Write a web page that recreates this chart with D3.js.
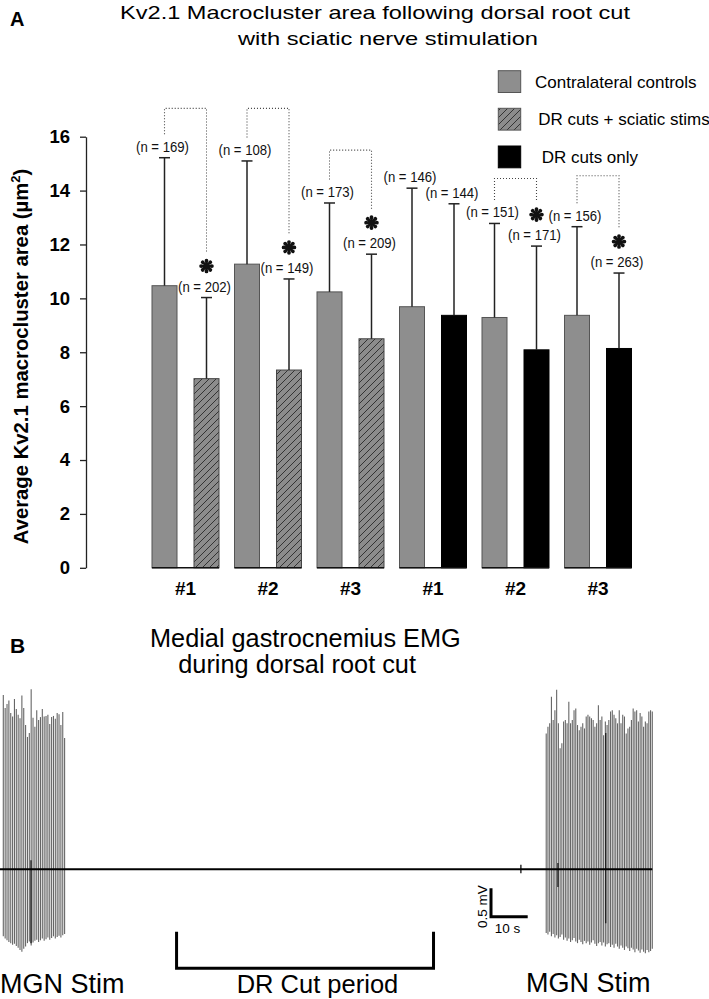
<!DOCTYPE html>
<html>
<head>
<meta charset="utf-8">
<script src="https://cdn.jsdelivr.net/npm/d3@7"></script>
<style>
  html, body { margin: 0; padding: 0; background: #fff; }
  svg { display: block; font-family: "Liberation Sans", Arial, sans-serif; }
</style>
</head>
<body>
<div id="chart"></div>
<script>
// ---------------- Panel A data ----------------
const groupLabels   = ["#1", "#2", "#3", "#1", "#2", "#3"];
const controlMeans  = [10.47, 11.27, 10.24, 9.69, 9.29, 9.37];
const controlSD     = [4.75, 3.83, 3.30, 4.40, 3.49, 3.29];
const controlN      = [169, 108, 173, 146, 151, 156];
const treatedMeans  = [7.02, 7.34, 8.50, 9.37, 8.09, 8.14];
const treatedSD     = [3.01, 3.38, 3.14, 4.14, 3.85, 2.80];
const treatedN      = [202, 149, 209, 144, 171, 263];
const treatedType   = ["stim", "stim", "stim", "only", "only", "only"];
const significant   = [true, true, true, false, true, true];
const bracketTop    = [17.05, 17.05, 15.5, null, 14.45, 14.55];
const yTicks        = [0, 2, 4, 6, 8, 10, 12, 14, 16];
const legendLabels  = ["Contralateral controls", "DR cuts + sciatic stims", "DR cuts only"];

// ---------------- Panel B data (EMG, mV / s) ----------------
const leftBurstTime  = [0.9, 17.6];
const rightBurstTime = [148.8, 177.7];
const traceEnd       = 177.7;
const leftTops = [3.07,2.84,2.91,2.97,2.75,2.69,3.00,2.82,2.72,2.66,
                  3.06,2.84,2.54,2.33,2.40,3.17,2.67,2.51,2.80,2.63,
                  2.68,2.82,2.69,2.70,2.72,2.56,2.68,2.70,2.65,2.75,
                  2.73,2.54,2.77,2.31];
const leftBottoms = [-1.18,-1.22,-1.25,-1.28,-1.30,-1.33,-1.31,-1.35,-1.38,-1.42,
                     -1.45,-1.40,-1.36,-1.30,-1.27,-1.34,-1.29,-1.26,-1.24,-1.28,
                     -1.25,-1.22,-1.26,-1.23,-1.20,-1.24,-1.21,-1.18,-1.22,-1.19,
                     -1.17,-1.20,-1.16,-1.14];
const rightTops = [2.39,2.51,2.57,3.04,2.63,2.80,3.16,2.57,2.13,2.22,
                   2.60,2.63,2.57,2.95,2.57,2.63,2.80,2.83,2.54,2.45,
                   2.51,2.57,2.48,2.69,2.72,2.69,2.66,2.63,2.51,2.57,
                   2.89,2.63,2.69,2.36,2.60,2.54,2.63,2.78,2.80,2.72,
                   2.66,2.57,2.80,2.57,2.72,2.69,2.39,2.48,2.51,2.63,
                   2.83,2.78,2.80,2.60,2.75,2.69,2.51,2.60,2.57,2.78,
                   2.80,2.78];
const rightBottoms = [-1.12,-1.15,-1.10,-1.18,-1.14,-1.20,-1.16,-1.22,-1.19,-1.15,
                      -1.24,-1.20,-1.26,-1.22,-1.28,-1.25,-1.21,-1.27,-1.30,-1.24,
                      -1.28,-1.32,-1.26,-1.30,-1.27,-1.33,-1.29,-1.25,-1.31,-1.35,
                      -1.30,-1.28,-1.34,-1.29,-1.36,-1.32,-1.30,-1.37,-1.33,-1.38,
                      -1.31,-1.36,-1.40,-1.34,-1.38,-1.42,-1.36,-1.39,-1.44,-1.38,
                      -1.41,-1.46,-1.40,-1.43,-1.47,-1.41,-1.45,-1.48,-1.42,-1.46,
                      -1.44,-1.40];
// artifacts: [time s, top mV, bottom mV]
const artifacts = [[8.45, 0.16, -1.30], [165.0, 2.40, -0.95], [152.0, 0.11, -0.31], [141.9, 0.08, -0.07]];
const drCutPeriod = [48.1, 118.1];
const scaleBarMV = 0.5;
const scaleBarS = 10;

// ---------------- Setup ----------------
const W = 709, H = 999;
const svg = d3.select("#chart").append("svg").attr("width", W).attr("height", H);

const defs = svg.append("defs");
const pat = defs.append("pattern").attr("id", "hatch").attr("patternUnits", "userSpaceOnUse")
  .attr("width", 7).attr("height", 7);
pat.append("rect").attr("width", 7).attr("height", 7).attr("fill", "#8c8c8c");
pat.append("path").attr("d", "M-1,8 L8,-1 M-1,1 L1,-1 M6,8 L8,6")
  .attr("stroke", "#2a2a2a").attr("stroke-width", 0.9);

const GRAY = "#8e8e8e";
const fillFor = t => t === "stim" ? "url(#hatch)" : "#000";

// ---------------- Panel A ----------------
const y = d3.scaleLinear().domain([0, 16]).range([567.8, 136.7]);
const idx = d3.range(groupLabels.length);
const xg = d3.scaleBand().domain(idx).range([144.25, 639.25]).padding(0);
const xi = d3.scaleBand().domain(["c", "t"]).range([-33.5, 33.5]).paddingInner(17 / 42).paddingOuter(0);
const gc = i => xg(i) + xg.bandwidth() / 2;
const bw = xi.bandwidth();
const bc = (i, k) => gc(i) + xi(k) + bw / 2;

// labels
svg.append("text").attr("x", 10).attr("y", 26).attr("font-weight", "bold").attr("font-size", 20).text("A");
svg.append("text").attr("x", 120).attr("y", 18.5).attr("font-size", 18.5)
  .attr("textLength", 510).attr("lengthAdjust", "spacingAndGlyphs")
  .text("Kv2.1 Macrocluster area following dorsal root cut");
svg.append("text").attr("x", 238).attr("y", 44.5).attr("font-size", 18.5)
  .attr("textLength", 300).attr("lengthAdjust", "spacingAndGlyphs")
  .text("with sciatic nerve stimulation");

// y axis
const yAxis = svg.append("g").attr("transform", "translate(86,0)")
  .call(d3.axisLeft(y).tickValues(yTicks).tickSize(6).tickSizeOuter(0).tickPadding(10).tickFormat(d3.format("d")));
yAxis.select(".domain").attr("stroke", "#222").attr("stroke-width", 1.3);
yAxis.selectAll(".tick line").attr("stroke", "#222").attr("stroke-width", 1.3);
yAxis.selectAll(".tick text").attr("font-size", 18.5).attr("font-weight", "bold")
  .attr("font-family", "'Liberation Sans', Arial, sans-serif").attr("fill", "#000");

const yl = svg.append("text").attr("transform", "translate(28,356.5) rotate(-90)")
  .attr("text-anchor", "middle").attr("font-weight", "bold").attr("font-size", 20.3);
yl.append("tspan").text("Average Kv2.1 macrocluster area (\u00b5m");
yl.append("tspan").attr("font-size", 13).attr("dy", -8).text("2");
yl.append("tspan").attr("dy", 8).text(")");

// bars
const gBars = svg.append("g");
idx.forEach(i => {
  gBars.append("rect").attr("x", gc(i) + xi("c")).attr("width", bw)
    .attr("y", y(controlMeans[i])).attr("height", y(0) - y(controlMeans[i]))
    .attr("fill", GRAY).attr("stroke", "#555").attr("stroke-width", 1);
  gBars.append("rect").attr("x", gc(i) + xi("t")).attr("width", bw)
    .attr("y", y(treatedMeans[i])).attr("height", y(0) - y(treatedMeans[i]))
    .attr("fill", fillFor(treatedType[i])).attr("stroke", treatedType[i] === "stim" ? "#444" : "#000").attr("stroke-width", 1);
  gBars.append("line").attr("x1", gc(i) + xi("c")).attr("x2", gc(i) + xi("t") + bw)
    .attr("y1", y(0)).attr("y2", y(0)).attr("stroke", "#111").attr("stroke-width", 1.6);
  svg.append("text").attr("x", gc(i)).attr("y", 595).attr("text-anchor", "middle")
    .attr("font-weight", "bold").attr("font-size", 19).text(groupLabels[i]);
});

// error bars + n labels
const errs = [];
idx.forEach(i => {
  errs.push({ x: bc(i, "c"), m: controlMeans[i], s: controlSD[i], n: controlN[i], grp: i, kind: "c" });
  errs.push({ x: bc(i, "t"), m: treatedMeans[i], s: treatedSD[i], n: treatedN[i], grp: i, kind: "t" });
});
const gErr = svg.append("g").attr("stroke", "#222").attr("stroke-width", 1.5);
errs.forEach(d => {
  const top = y(d.m + d.s);
  gErr.append("line").attr("x1", d.x).attr("x2", d.x).attr("y1", y(d.m)).attr("y2", top);
  gErr.append("line").attr("x1", d.x - 5.5).attr("x2", d.x + 5.5).attr("y1", top).attr("y2", top);
  d.labelY = top - 11.5;
  svg.append("text").attr("x", d.x - 2).attr("y", d.labelY + 5.5).attr("text-anchor", "middle")
    .attr("font-size", 15.5).attr("textLength", 53).attr("lengthAdjust", "spacingAndGlyphs")
    .attr("fill", "#111").text(`(n = ${d.n})`);
});

// asterisk symbol (8 teardrop spokes)
function asteriskPath() {
  const p = d3.path();
  for (let k = 0; k < 8; k++) {
    const a = k * Math.PI / 4 - Math.PI / 2;
    const r = 5.4, w = 1.9;
    const cx = r * Math.cos(a), cy = r * Math.sin(a);
    const nx = -Math.sin(a), ny = Math.cos(a);
    p.moveTo(0.35 * nx, 0.35 * ny);
    p.lineTo(cx + w * nx, cy + w * ny);
    p.arc(cx, cy, w, a + Math.PI / 2, a - Math.PI / 2, true);
    p.lineTo(-0.35 * nx, -0.35 * ny);
    p.closePath();
  }
  return p.toString();
}
const astD = asteriskPath();

// significance brackets
idx.forEach(i => {
  if (!significant[i]) return;
  const c = errs.find(d => d.grp === i && d.kind === "c");
  const t = errs.find(d => d.grp === i && d.kind === "t");
  const astY = t.labelY - 20;
  svg.append("path").attr("transform", `translate(${t.x},${astY})`).attr("d", astD).attr("fill", "#111");
  const yTop = y(bracketTop[i]);
  svg.append("path")
    .attr("d", `M${c.x},${c.labelY - 12} V${yTop} H${t.x} V${astY - 14}`)
    .attr("fill", "none").attr("stroke", "#444").attr("stroke-width", 1.1).attr("stroke-dasharray", "1,2");
});

// legend
const legFills = [GRAY, "url(#hatch)", "#000"];
const legBoxY = [70.7, 108.3, 146];
const legTextX = [535, 538.3, 541.7];
legendLabels.forEach((lab, k) => {
  svg.append("rect").attr("x", 498.3).attr("y", legBoxY[k]).attr("width", 22.4).attr("height", 21.8)
    .attr("fill", legFills[k]).attr("stroke", k === 2 ? "#000" : "#555").attr("stroke-width", 1);
  svg.append("text").attr("x", legTextX[k]).attr("y", legBoxY[k] + 17).attr("font-size", 17).text(lab);
});

// ---------------- Panel B ----------------
const xT = d3.scaleLinear().domain([0, traceEnd]).range([0, 652.3]);
const yV = d3.scaleLinear().domain([0, 1]).range([869.3, 812.5]);

svg.append("text").attr("x", 10).attr("y", 653).attr("font-weight", "bold").attr("font-size", 21).text("B");
svg.append("text").attr("x", 150).attr("y", 646.7).attr("font-size", 25.3).text("Medial gastrocnemius EMG");
svg.append("text").attr("x", 178.3).attr("y", 673.3).attr("font-size", 25.3).text("during dorsal root cut");

function drawBurst(tops, bottoms, tr) {
  const xs = d3.scalePoint().domain(d3.range(tops.length)).range([xT(tr[0]), xT(tr[1])]);
  svg.append("g").attr("stroke", "#666").attr("stroke-width", 1.1)
    .selectAll("line").data(tops).join("line")
    .attr("x1", (d, i) => xs(i)).attr("x2", (d, i) => xs(i))
    .attr("y1", d => yV(d)).attr("y2", (d, i) => yV(bottoms[i]));
}
drawBurst(leftTops, leftBottoms, leftBurstTime);
drawBurst(rightTops, rightBottoms, rightBurstTime);

svg.append("g").attr("stroke", "#222").attr("stroke-width", 1.4)
  .selectAll("line").data(artifacts).join("line")
  .attr("x1", d => xT(d[0])).attr("x2", d => xT(d[0]))
  .attr("y1", d => yV(d[1])).attr("y2", d => yV(d[2]));

svg.append("line").attr("x1", xT(0)).attr("x2", xT(traceEnd)).attr("y1", yV(0)).attr("y2", yV(0))
  .attr("stroke", "#000").attr("stroke-width", 2);

// scale bar
const sbX = 491, sbY = 916.7;
svg.append("path")
  .attr("d", `M${sbX},${sbY - (yV(0) - yV(scaleBarMV))} V${sbY} H${sbX + xT(scaleBarS) - xT(0)}`)
  .attr("fill", "none").attr("stroke", "#000").attr("stroke-width", 3);
svg.append("text").attr("transform", "translate(487.3,906.7) rotate(-90)").attr("text-anchor", "middle")
  .attr("font-size", 13.5).text(`${scaleBarMV} mV`);
svg.append("text").attr("x", 507.5).attr("y", 933).attr("text-anchor", "middle")
  .attr("font-size", 13.5).text(`${scaleBarS} s`);

// DR cut bracket
svg.append("path")
  .attr("d", `M${xT(drCutPeriod[0])},931.7 V968.3 H${xT(drCutPeriod[1])} V931.7`)
  .attr("fill", "none").attr("stroke", "#000").attr("stroke-width", 3);
svg.append("text").attr("x", 236.7).attr("y", 993).attr("font-size", 25.5).text("DR Cut period");
svg.append("text").attr("x", 0).attr("y", 993).attr("font-size", 27).text("MGN Stim");
svg.append("text").attr("x", 526).attr("y", 992).attr("font-size", 27).text("MGN Stim");
</script>
</body>
</html>
